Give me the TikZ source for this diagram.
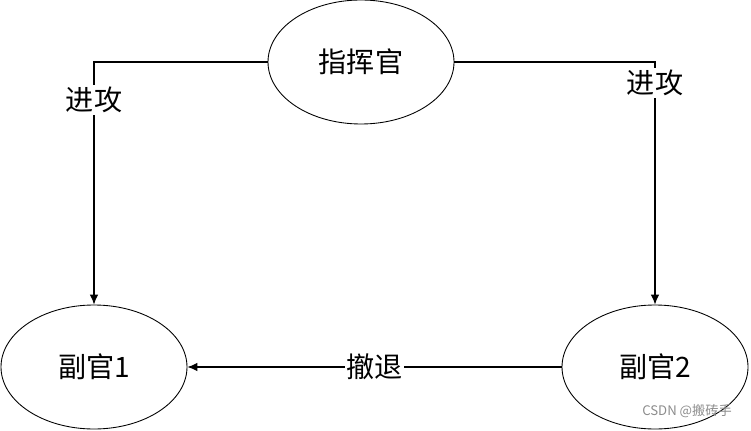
\documentclass[tikz,border=0pt]{standalone}
\usepackage{fontspec}
\setmainfont{Noto Sans CJK SC}
\usetikzlibrary{shapes,arrows.meta,positioning,calc}

\begin{document}
\begin{tikzpicture}[
rank/.style={draw, ellipse, line width=0.5pt, minimum width=3.72cm, minimum height=2.48cm, font=\fontsize{16}{19}\selectfont},
order/.style={fill=white, inner sep=1pt, font=\fontsize{16}{19}\selectfont},
link/.style={-{Latex[length=2mm,width=1.7mm]}, line width=0.6pt}
]

\useasboundingbox (0,0) rectangle (15.02,8.6);

% ================= NODES =================
\node[rank] (cmd) at (7.22,7.36) {指挥官};
\node[rank] (vice1) at (1.88,1.26) {副官1};
\node[rank] (vice2) at (13.1,1.26) {副官2};

\coordinate (cornerL) at (1.88,7.36);
\coordinate (cornerR) at (13.1,7.36);

% ================= CONNECTORS =================
\draw[link] (cmd.west) -- (cornerL) -- (vice1.north)
node[order, pos=0.156] {进攻};

\draw[link] (cmd.east) -- (cornerR) -- (vice2.north)
node[order, pos=0.086] {进攻};

\draw[link] (vice2.west) -- (vice1.east)
node[order, midway] {撤退};

% watermark
\node[text=black!45, font=\fontsize{7.5}{9}\selectfont] (mark) at (13.74,0.38) {CSDN @搬砖手};

\end{tikzpicture}
\end{document}
